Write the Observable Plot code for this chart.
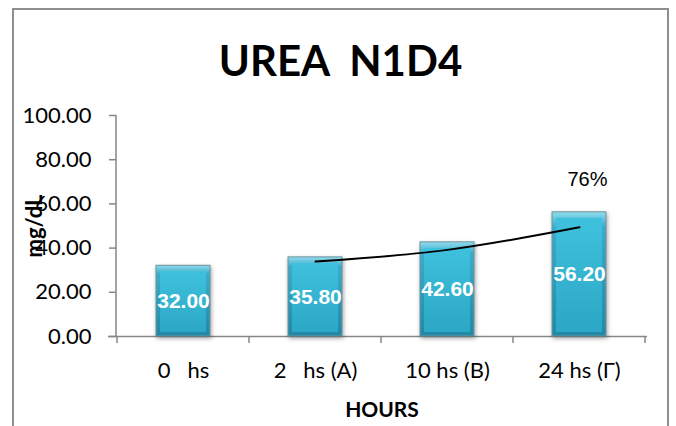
<!DOCTYPE html>
<html>
<head>
<meta charset="utf-8">
<script src="https://cdn.jsdelivr.net/npm/d3@7"></script>
<script src="https://cdn.jsdelivr.net/npm/@observablehq/plot@0.6"></script>
<style>
  html, body { margin: 0; padding: 0; background: #fff; overflow: hidden; }
  #wrap { position: relative; width: 676px; height: 426px; }
  #border {
    position: absolute; left: 12px; top: 8px; width: 653px; height: 480px;
    border-top: 2px solid #8f8f8f; border-left: 2px solid #8f8f8f; border-right: 2px solid #8f8f8f;
    pointer-events: none;
  }
  #chart { position: absolute; left: 0; top: 0; }
  svg text { white-space: pre; }
</style>
</head>
<body>
<div id="wrap">
  <div id="chart"></div>
  <div id="border"></div>
</div>
<script>
// Sampling times and measured urea (mg/dL)
const categories = ["0   hs", "2   hs (A)", "10 hs (B)", "24 hs (Γ)"];
const values = [32.00, 35.80, 42.60, 56.20];

// Two-period moving-average trendline points
const trendCategories = ["2   hs (A)", "10 hs (B)", "24 hs (Γ)"];
const trendValues = [33.9, 39.2, 49.4];

const yTicks = [0, 20, 40, 60, 80, 100];

const data = categories.map((c, i) => ({category: c, value: values[i]}));
const trend = trendCategories.map((c, i) => ({category: c, value: trendValues[i]}));
const last = data[data.length - 1];
const changeLabel = Math.round((last.value / data[0].value - 1) * 100) + "%";

const axisGrey = "#868686";

const chart = Plot.plot({
  width: 676,
  height: 426,
  marginTop: 115,
  marginBottom: 90,
  marginLeft: 116,
  marginRight: 29,
  style: {background: "transparent", color: "#000"},
  x: {domain: categories, paddingInner: 0.59, paddingOuter: 0.295},
  y: {domain: [0, 100]},
  marks: [
    Plot.axisY({ticks: yTicks, tickFormat: d => d.toFixed(2), tickSize: 7, tickPadding: 18,
      fontSize: 22, fontFamily: "Lato", stroke: axisGrey, strokeWidth: 1.5, label: null}),
    Plot.axisX({tickSize: 0, tickPadding: 26, fontSize: 22, fontFamily: "Lato", label: null}),
    Plot.ruleY([0], {stroke: axisGrey, strokeWidth: 1.5, insetLeft: -8}),
    // bar rim (bevel)
    Plot.barY(data, {x: "category", y: "value", fill: "url(#barRim)", stroke: "#6f939e", strokeWidth: 1}),
    // bar face
    Plot.barY(data, {x: "category", y: "value", fill: "url(#barFace)",
      insetTop: 6, insetLeft: 4, insetRight: 4, insetBottom: 4}),
    Plot.text(data, {x: "category", y: d => d.value / 2, text: d => d.value.toFixed(2),
      fill: "white", fontWeight: "bold", fontSize: 21, fontFamily: "Liberation Sans"}),
    Plot.line(trend, {x: "category", y: "value", stroke: "black", strokeWidth: 2, curve: "catmull-rom"}),
    Plot.text([last], {x: "category", y: "value", text: () => changeLabel, dy: -33, dx: 8,
      fontSize: 20, fontFamily: "Liberation Sans", fill: "#000"}),
    Plot.text(["UREA  N1D4"], {text: d => d, frameAnchor: "top", lineAnchor: "bottom", textAnchor: "middle",
      dy: -40, dx: -41.5, fontSize: 42, fontWeight: "bold", fontFamily: "Lato", fill: "#000"}),
    Plot.text(["mg/dL"], {text: d => d, frameAnchor: "left", lineAnchor: "middle", textAnchor: "middle",
      dx: -82, rotate: -90, fontSize: 22, fontWeight: "bold", fontFamily: "Lato", fill: "#000"}),
    Plot.text(["HOURS"], {text: d => d, frameAnchor: "bottom", lineAnchor: "middle", textAnchor: "middle",
      dy: 74, fontSize: 21, fontWeight: "bold", fontFamily: "Lato", fill: "#000"})
  ]
});

// Gradients for the bevelled bars
const svg = d3.select(chart);
const defs = svg.insert("defs", ":first-child");
const rim = defs.append("linearGradient").attr("id", "barRim").attr("x1", 0).attr("y1", 0).attr("x2", 0).attr("y2", 1);
[["0%", "#8fdcee"], ["12%", "#3aaccb"], ["100%", "#2189a6"]]
  .forEach(([o, c]) => rim.append("stop").attr("offset", o).attr("stop-color", c));
const face = defs.append("linearGradient").attr("id", "barFace").attr("x1", 0).attr("y1", 0).attr("x2", 0).attr("y2", 1);
[["0%", "#3fc1dd"], ["100%", "#2ca7c6"]]
  .forEach(([o, c]) => face.append("stop").attr("offset", o).attr("stop-color", c));

svg.selectAll('g[aria-label="bar"]').filter((d, i) => i === 0)
  .style("filter", "drop-shadow(1px 2px 2px rgba(0,0,0,0.35))");

// Axis line and category-boundary ticks, placed with the chart's own scales
const xs = chart.scale("x");
const ys = chart.scale("y");
const y0 = ys.apply(0);
const g = svg.append("g").attr("stroke", axisGrey).attr("stroke-width", 1.5);
g.append("line")
  .attr("x1", xs.range[0]).attr("x2", xs.range[0])
  .attr("y1", ys.apply(100)).attr("y2", y0);
const bounds = categories.map(c => xs.apply(c) + xs.bandwidth / 2 - xs.step / 2);
bounds.push(xs.apply(categories[categories.length - 1]) + xs.bandwidth / 2 + xs.step / 2);
bounds.forEach(b => g.append("line").attr("x1", b).attr("x2", b).attr("y1", y0).attr("y2", y0 + 7));

document.getElementById("chart").appendChild(chart);
</script>
</body>
</html>
